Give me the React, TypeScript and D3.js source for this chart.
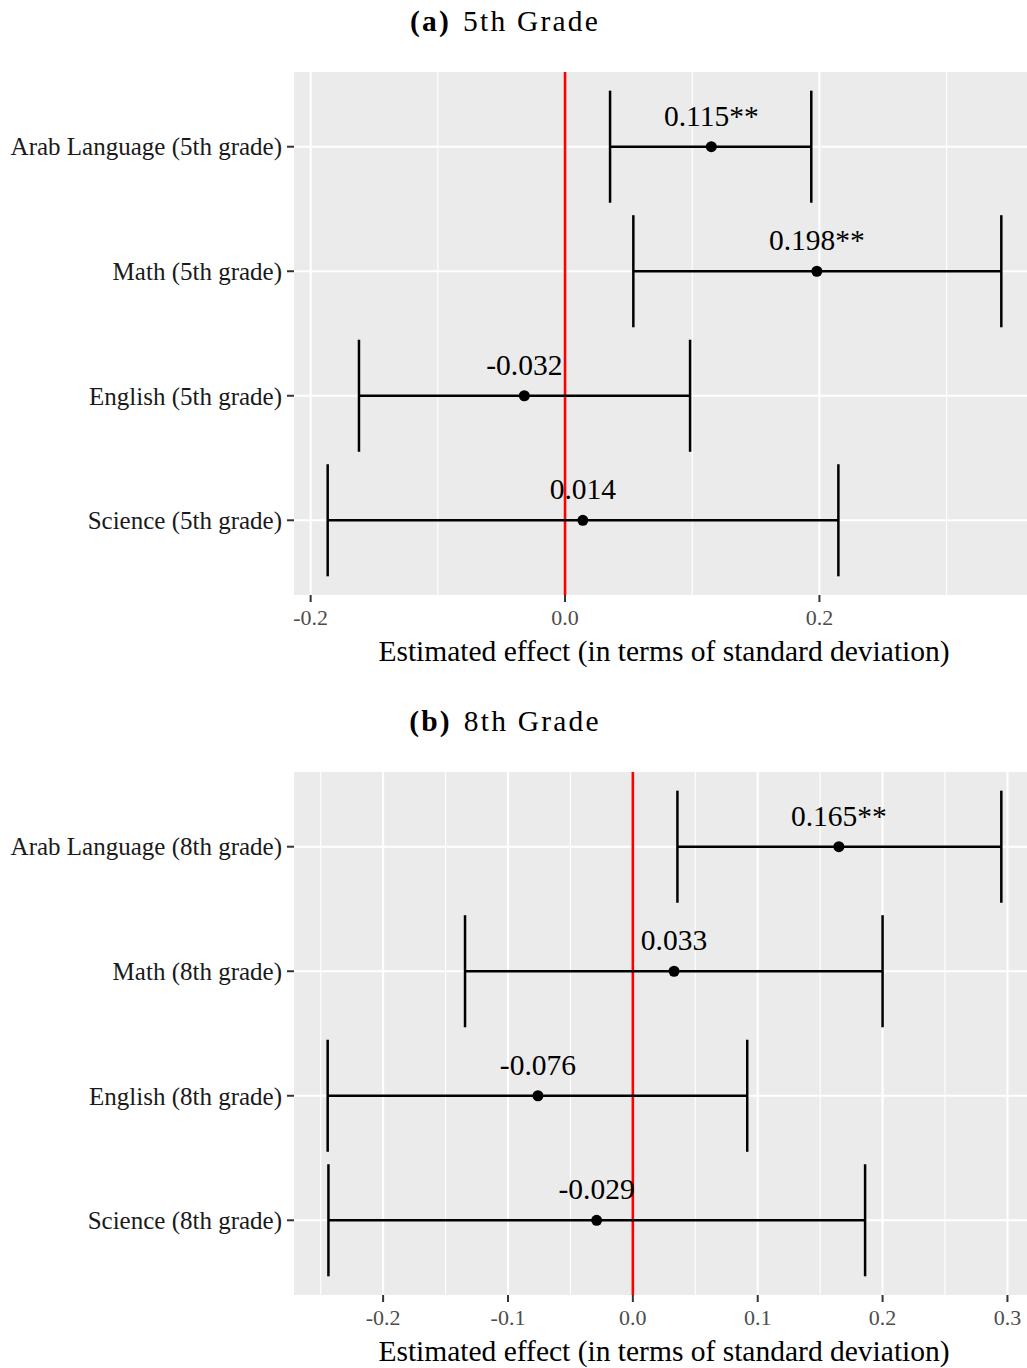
import React, { useEffect } from 'react'
import * as d3 from 'd3'

// 5th grade
const categories5 = ['Arab Language (5th grade)', 'Math (5th grade)', 'English (5th grade)', 'Science (5th grade)']
const estimates5 = [0.115, 0.198, -0.032, 0.014]
const lower5 = [0.0354, 0.0537, -0.162, -0.1866]
const upper5 = [0.1936, 0.343, 0.0983, 0.2149]
const labels5 = ['0.115**', '0.198**', '-0.032', '0.014']
const majorTicks5 = [-0.2, 0, 0.2]
const minorTicks5 = [-0.1, 0.1, 0.3]

// 8th grade
const categories8 = ['Arab Language (8th grade)', 'Math (8th grade)', 'English (8th grade)', 'Science (8th grade)']
const estimates8 = [0.165, 0.033, -0.076, -0.029]
const lower8 = [0.0357, -0.1344, -0.2444, -0.2438]
const upper8 = [0.2951, 0.2, 0.0916, 0.186]
const labels8 = ['0.165**', '0.033', '-0.076', '-0.029']
const majorTicks8 = [-0.2, -0.1, 0, 0.1, 0.2, 0.3]
const minorTicks8 = [-0.25, -0.15, -0.05, 0.05, 0.15, 0.25]

const FONT = '"Liberation Serif", "Times New Roman", serif'

interface PanelProps {
  top: number
  tag: string
  title: string
  categories: string[]
  estimates: number[]
  lower: number[]
  upper: number[]
  labels: string[]
  majorTicks: number[]
  minorTicks: number[]
}

const Panel: React.FC<PanelProps> = ({ top, tag, title, categories, estimates, lower, upper, labels, majorTicks, minorTicks }) => {
  const left = 294
  const plotW = 741
  const plotH = 523
  const plotTop = top + 72
  const plotBottom = plotTop + plotH

  // domain = data range + 5% on each side, like ggplot
  const lo = d3.min(lower) as number
  const hi = d3.max(upper) as number
  const pad = (hi - lo) * 0.05
  const x = d3.scaleLinear().domain([lo - pad, hi + pad]).range([left, left + plotW])
  const y = d3.scalePoint<string>().domain(categories).range([plotTop, plotBottom]).padding(0.6)
  const step = y.step()
  const capHalf = step * 0.45

  return (
    <g>
      <text x={505} y={top + 31} fontFamily={FONT} fontSize={29.5} letterSpacing={2.2} textAnchor="middle" fill="#000">
        <tspan fontWeight="bold">{tag}</tspan>
        <tspan dx={12}>{title}</tspan>
      </text>
      <rect x={left} y={plotTop} width={plotW} height={plotH} fill="#EBEBEB" />
      {minorTicks.map(t => (
        <line key={'mi' + t} x1={x(t)} x2={x(t)} y1={plotTop} y2={plotBottom} stroke="#fff" strokeWidth={1.1} />
      ))}
      {majorTicks.map(t => (
        <line key={'ma' + t} x1={x(t)} x2={x(t)} y1={plotTop} y2={plotBottom} stroke="#fff" strokeWidth={2.1} />
      ))}
      {categories.map(c => (
        <line key={'hg' + c} x1={left} x2={left + plotW} y1={y(c)} y2={y(c)} stroke="#fff" strokeWidth={2.1} />
      ))}
      <line x1={x(0)} x2={x(0)} y1={plotTop} y2={plotBottom} stroke="#FF0000" strokeWidth={2.6} />
      {categories.map((c, i) => {
        const cy = y(c) as number
        return (
          <g key={'eb' + c} stroke="#000" strokeWidth={2.5}>
            <line x1={x(lower[i])} x2={x(upper[i])} y1={cy} y2={cy} />
            <line x1={x(lower[i])} x2={x(lower[i])} y1={cy - capHalf} y2={cy + capHalf} />
            <line x1={x(upper[i])} x2={x(upper[i])} y1={cy - capHalf} y2={cy + capHalf} />
          </g>
        )
      })}
      {categories.map((c, i) => (
        <circle key={'pt' + c} cx={x(estimates[i])} cy={y(c)} r={5.5} fill="#000" />
      ))}
      {categories.map((c, i) => (
        <text key={'lb' + c} x={x(estimates[i])} y={(y(c) as number) - step * 0.25} dy="0.35em"
          fontFamily={FONT} fontSize={29.5} textAnchor="middle" fill="#000">{labels[i]}</text>
      ))}
      {/* y axis */}
      {categories.map(c => (
        <g key={'ya' + c}>
          <line x1={left - 7} x2={left} y1={y(c)} y2={y(c)} stroke="#333" strokeWidth={2} />
          <text x={left - 12} y={y(c)} dy="0.35em" fontFamily={FONT} fontSize={25} textAnchor="end" fill="#1a1a1a">{c}</text>
        </g>
      ))}
      {/* x axis */}
      {majorTicks.map(t => (
        <g key={'xa' + t}>
          <line x1={x(t)} x2={x(t)} y1={plotBottom} y2={plotBottom + 7} stroke="#333" strokeWidth={2} />
          <text x={x(t)} y={plotBottom + 22} dy="0.35em" fontFamily={FONT} fontSize={22} textAnchor="middle" fill="#4D4D4D">{t.toFixed(1)}</text>
        </g>
      ))}
      <text x={664} y={plotBottom + 56} dy="0.35em" fontFamily={FONT} fontSize={29.5} textAnchor="middle" fill="#000">
        Estimated effect (in terms of standard deviation)
      </text>
    </g>
  )
}

export default function App() {
  useEffect(() => {
    document.body.style.margin = '0'
  }, [])
  return (
    <svg width={1027} height={1368} style={{ display: 'block', background: '#fff' }}>
      <Panel top={0} tag="(a)" title="5th Grade" categories={categories5} estimates={estimates5} lower={lower5}
        upper={upper5} labels={labels5} majorTicks={majorTicks5} minorTicks={minorTicks5} />
      <Panel top={700} tag="(b)" title="8th Grade" categories={categories8} estimates={estimates8} lower={lower8}
        upper={upper8} labels={labels8} majorTicks={majorTicks8} minorTicks={minorTicks8} />
    </svg>
  )
}
